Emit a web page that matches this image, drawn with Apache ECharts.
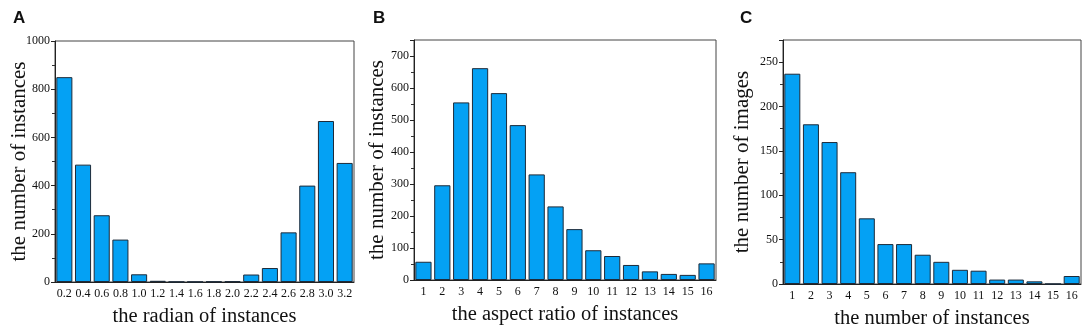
<!DOCTYPE html>
<html>
<head>
<meta charset="utf-8">
<script src="https://cdn.jsdelivr.net/npm/echarts@6/dist/echarts.min.js"></script>
<style>
  html, body { margin: 0; padding: 0; background: #fff; }
  #chart { width: 1084px; height: 329px; }
</style>
</head>
<body>
<div id="chart"></div>
<script>
// panel A: radian histogram
const radianLabels = ['0.2', '0.4', '0.6', '0.8', '1.0', '1.2', '1.4', '1.6', '1.8', '2.0', '2.2', '2.4', '2.6', '2.8', '3.0', '3.2']
const radianCounts = [850, 487, 277, 176, 32, 5, 1, 1, 2, 3, 31, 58, 206, 400, 668, 494]

// panel B: aspect ratio histogram
const ratioLabels = ['1', '2', '3', '4', '5', '6', '7', '8', '9', '10', '11', '12', '13', '14', '15', '16']
const ratioCounts = [57, 296, 555, 662, 584, 484, 330, 230, 159, 93, 75, 47, 27, 19, 16, 52]

// panel C: instances per image
const instanceLabels = ['1', '2', '3', '4', '5', '6', '7', '8', '9', '10', '11', '12', '13', '14', '15', '16']
const imageCounts = [237, 180, 160, 126, 74, 45, 45, 33, 25, 16, 15, 5, 5, 3, 0, 9]

const serif = '"Liberation Serif", "DejaVu Serif", serif'
const barColor = '#04a1f4'

function xAxisFor(idx, labels, name) {
  return {
    gridIndex: idx,
    type: 'category',
    data: labels,
    name: name,
    nameLocation: 'middle',
    nameGap: 24,
    nameMoveOverlap: false,
    nameTextStyle: { fontFamily: serif, fontSize: 20.5, color: '#111' },
    axisLine: { lineStyle: { color: '#222', width: 1 } },
    axisTick: { alignWithLabel: true, length: 4, lineStyle: { color: '#222' } },
    axisLabel: { fontFamily: serif, fontSize: 12, color: '#111', margin: 6, interval: 0 }
  }
}

function yAxisFor(idx, max, interval, name, gap) {
  return {
    gridIndex: idx,
    type: 'value',
    min: 0,
    max: max,
    interval: interval,
    name: name,
    nameLocation: 'middle',
    nameGap: gap,
    nameMoveOverlap: false,
    nameTextStyle: { fontFamily: serif, fontSize: 21, color: '#111' },
    axisLine: { show: true, lineStyle: { color: '#222', width: 1 } },
    axisTick: { show: true, length: 4, lineStyle: { color: '#222' } },
    minorTick: { show: true, splitNumber: 2, length: 3, lineStyle: { color: '#333' } },
    splitLine: { show: false },
    axisLabel: {
      fontFamily: serif, fontSize: 12, color: '#111', margin: 5,
      showMaxLabel: max % interval === 0,
      formatter: v => String(v)
    }
  }
}

function barSeries(idx, data) {
  return {
    type: 'bar',
    xAxisIndex: idx,
    yAxisIndex: idx,
    data: data,
    barCategoryGap: '14%',
    itemStyle: { color: barColor, borderColor: '#1d2b3a', borderWidth: 1 },
    animation: false
  }
}

const gridBase = { show: true, borderColor: '#444', borderWidth: 1, containLabel: false, outerBoundsMode: 'none' }

const chart = echarts.init(document.getElementById('chart'), null, { renderer: 'canvas' })

chart.setOption({
  backgroundColor: '#fff',
  animation: false,
  title: [
    { text: 'A', left: 8, top: 5 },
    { text: 'B', left: 368, top: 5 },
    { text: 'C', left: 735, top: 5 }
  ].map(t => Object.assign(t, {
    textStyle: { fontFamily: '"Liberation Sans", Arial, sans-serif', fontSize: 17, fontWeight: 'bold', color: '#111' }
  })),
  grid: [
    Object.assign({ left: 55, top: 41, width: 299, height: 241 }, gridBase),
    Object.assign({ left: 414, top: 40, width: 302, height: 240 }, gridBase),
    Object.assign({ left: 783, top: 40, width: 298, height: 244 }, gridBase)
  ],
  xAxis: [
    xAxisFor(0, radianLabels, 'the radian of instances'),
    xAxisFor(1, ratioLabels, 'the aspect ratio of instances'),
    xAxisFor(2, instanceLabels, 'the number of instances')
  ],
  yAxis: [
    yAxisFor(0, 1000, 200, 'the number of instances', 25),
    yAxisFor(1, 750, 100, 'the number of instances', 26),
    yAxisFor(2, 275, 50, 'the number of images', 30)
  ],
  series: [
    barSeries(0, radianCounts),
    barSeries(1, ratioCounts),
    barSeries(2, imageCounts)
  ]
})
</script>
</body>
</html>
